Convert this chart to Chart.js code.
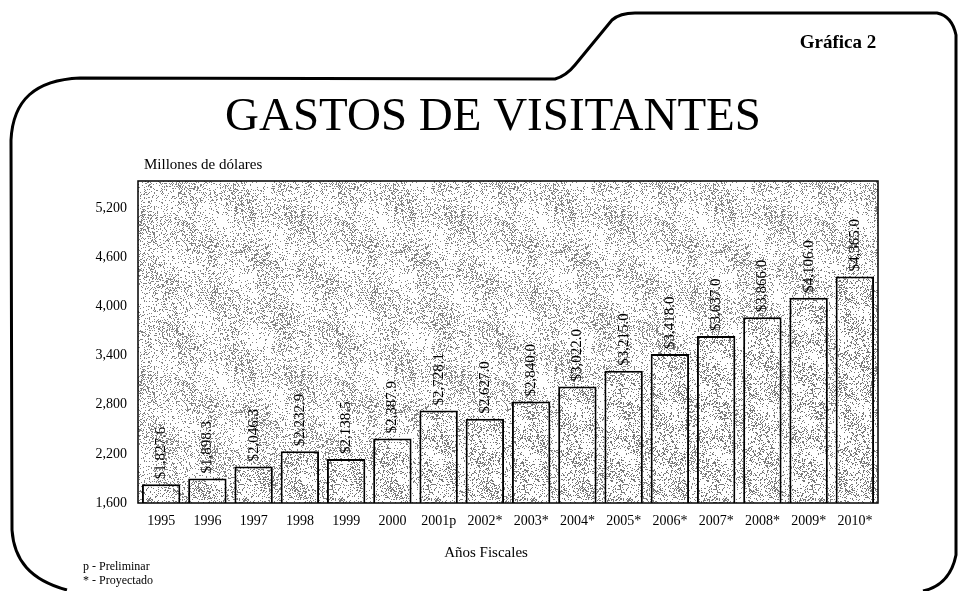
<!DOCTYPE html>
<html>
<head>
<meta charset="utf-8">
<script src="https://cdn.jsdelivr.net/npm/chart.js@4.4.1/dist/chart.umd.min.js"></script>
<style>
  html, body { margin: 0; padding: 0; background: #fff; }
  #wrap { width: 958px; height: 591px; position: relative; }
</style>
</head>
<body>
<div id="wrap"><canvas id="gastosChart"></canvas></div>
<script>
// ---------- Data ---------- //
const years = ["1995", "1996", "1997", "1998", "1999", "2000", "2001p", "2002*",
  "2003*", "2004*", "2005*", "2006*", "2007*", "2008*", "2009*", "2010*"];
const gastos = [1827.6, 1898.3, 2046.3, 2232.9, 2138.5, 2387.9, 2728.1, 2627.0,
  2840.0, 3022.0, 3215.0, 3418.0, 3637.0, 3866.0, 4106.0, 4365.0];
const yTicks = [1600, 2200, 2800, 3400, 4000, 4600, 5200];
const yMin = 1600;
const yMax = 5530;

const serif = "'Liberation Serif', 'DejaVu Serif', serif";

// ---------- speckled textures (deterministic hash, only for looks) ---------- //
function hash(x, y, s) {
  let h = (x * 374761393 + y * 668265263 + s * 982451653) | 0;
  h = (h ^ (h >>> 13)) * 1274126177;
  h = h ^ (h >>> 16);
  return (h >>> 0) / 4294967296;
}
function makeTexture(size, base, amp, dot, seed) {
  const c = document.createElement("canvas");
  c.width = c.height = size;
  const g = c.getContext("2d");
  const img = g.createImageData(size, size);
  for (let y = 0; y < size; y++) {
    for (let x = 0; x < size; x++) {
      const wave = Math.sin((x + y) * 2 * Math.PI / size) * Math.cos((x - y) * 4 * Math.PI / size);
      const d = base + amp * wave;
      const v = hash(x, y, seed) < d ? dot : 255;
      const i = (y * size + x) * 4;
      img.data[i] = img.data[i + 1] = img.data[i + 2] = v;
      img.data[i + 3] = 255;
    }
  }
  g.putImageData(img, 0, 0);
  return c;
}

const ctx = document.getElementById("gastosChart").getContext("2d");
const bgPattern = ctx.createPattern(makeTexture(160, 0.22, 0.14, 130, 7), "repeat");
const barPattern = ctx.createPattern(makeTexture(96, 0.24, 0.14, 120, 3), "repeat");

// ---------- plugins ---------- //
const decorPlugin = {
  id: "decor",
  beforeDraw(chart) {
    const c = chart.ctx;
    const a = chart.chartArea;
    c.save();
    // plot background
    c.fillStyle = bgPattern;
    c.fillRect(a.left, a.top, a.right - a.left, a.bottom - a.top);

    // folder-like frame
    c.strokeStyle = "#000";
    c.lineWidth = 3;
    c.lineJoin = "round";
    c.beginPath();
    c.moveTo(67, 590);
    c.bezierCurveTo(30, 580, 14, 560, 12, 530);
    c.lineTo(11, 140);
    c.bezierCurveTo(13, 100, 35, 80, 80, 78);
    c.lineTo(555, 79);
    c.quadraticCurveTo(566, 76, 575, 65);
    c.lineTo(612, 20);
    c.quadraticCurveTo(620, 13, 635, 13);
    c.lineTo(937, 13);
    c.quadraticCurveTo(952, 16, 956, 35);
    c.lineTo(956, 555);
    c.quadraticCurveTo(950, 585, 923, 591);
    c.stroke();

    // texts
    c.fillStyle = "#000";
    c.textBaseline = "middle";
    c.textAlign = "center";
    c.font = "bold 19px " + serif;
    c.fillText("Gráfica 2", 838, 43);
    c.font = "47px " + serif;
    c.fillText("GASTOS DE VISITANTES", 493, 118);
    c.font = "15px " + serif;
    c.fillText("Años Fiscales", 486, 553);
    c.textAlign = "left";
    c.font = "15px " + serif;
    c.fillText("Millones de dólares", 144, 165);
    c.font = "12px " + serif;
    c.fillText("p - Preliminar", 83, 567);
    c.fillText("* - Proyectado", 83, 581);
    c.restore();
  },
  afterDatasetsDraw(chart) {
    const c = chart.ctx;
    const a = chart.chartArea;
    const meta = chart.getDatasetMeta(0);
    c.save();
    c.fillStyle = "#000";
    c.font = "15px " + serif;
    c.textAlign = "left";
    c.textBaseline = "middle";
    meta.data.forEach((bar, i) => {
      const txt = "$" + gastos[i].toLocaleString("en-US", { minimumFractionDigits: 1, maximumFractionDigits: 1 });
      c.save();
      c.translate(bar.x, bar.y - 5);
      c.rotate(-Math.PI / 2);
      c.fillText(txt, 0, 0);
      c.restore();
    });
    // plot border
    c.strokeStyle = "#000";
    c.lineWidth = 1.5;
    c.strokeRect(a.left, a.top, a.right - a.left, a.bottom - a.top);
    c.restore();
  }
};

// ---------- Chart ---------- //
new Chart(ctx, {
  type: "bar",
  data: {
    labels: years,
    datasets: [
      {
        label: "Gastos de visitantes",
        data: gastos,
        backgroundColor: barPattern,
        borderColor: "#000",
        borderWidth: 2,
        borderSkipped: false,
        barPercentage: 0.83,
        categoryPercentage: 1.0,
      },
    ],
  },
  options: {
    responsive: true,
    maintainAspectRatio: false,
    animation: false,
    layout: { padding: { top: 181, right: 80, left: 0, bottom: 0 } },
    plugins: {
      legend: { display: false },
      tooltip: { enabled: false },
      title: { display: false },
    },
    scales: {
      x: {
        grid: { display: false, drawTicks: false },
        border: { display: false },
        ticks: { color: "#000", font: { family: serif, size: 14 }, padding: 10, maxRotation: 0, autoSkip: false },
        afterFit(scale) { scale.height = 88; },
      },
      y: {
        min: yMin,
        max: yMax,
        grid: { display: false, drawTicks: false },
        border: { display: false },
        afterBuildTicks(scale) { scale.ticks = yTicks.map((v) => ({ value: v })); },
        ticks: {
          color: "#000",
          font: { family: serif, size: 14 },
          padding: 11,
          callback: (v) => v.toLocaleString("en-US"),
        },
        afterFit(scale) { scale.width = 138; },
      },
    },
  },
  plugins: [decorPlugin],
});
</script>
</body>
</html>
